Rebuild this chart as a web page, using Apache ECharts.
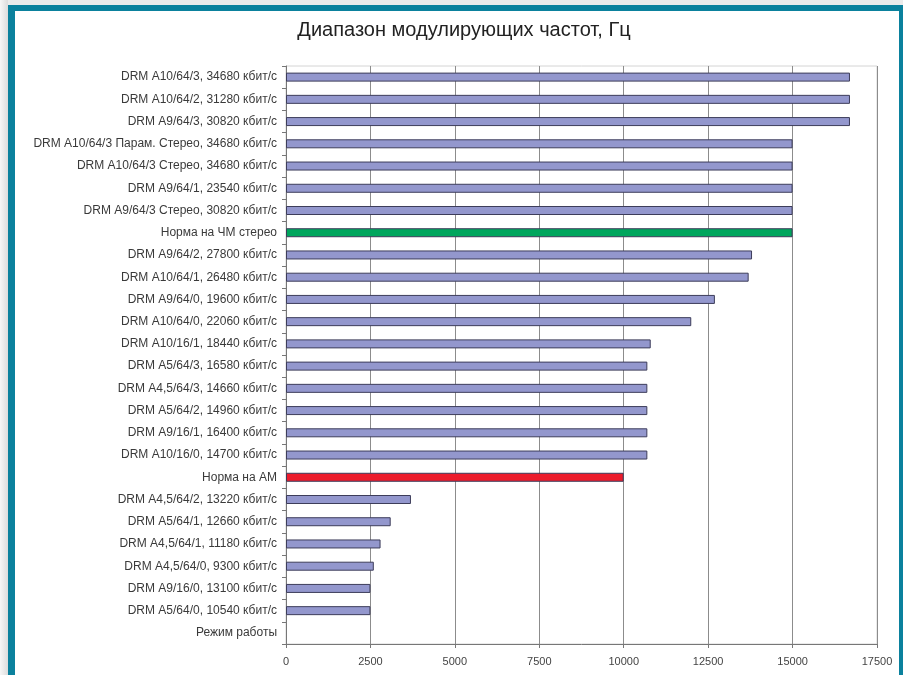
<!DOCTYPE html>
<html>
<head>
<meta charset="utf-8">
<script src="https://cdn.jsdelivr.net/npm/echarts@6/dist/echarts.min.js"></script>
<style>
  html, body { margin: 0; padding: 0; background: #fff; }
  #main { width: 903px; height: 675px; }
</style>
</head>
<body>
<div id="main"></div>
<script>
// режимы работы (сверху вниз)
const categories = [
  'DRM A10/64/3, 34680 кбит/с',
  'DRM A10/64/2, 31280 кбит/с',
  'DRM A9/64/3, 30820 кбит/с',
  'DRM A10/64/3 Парам. Стерео, 34680 кбит/с',
  'DRM A10/64/3 Стерео, 34680 кбит/с',
  'DRM A9/64/1, 23540 кбит/с',
  'DRM A9/64/3 Стерео, 30820 кбит/с',
  'Норма на ЧМ стерео',
  'DRM A9/64/2, 27800 кбит/с',
  'DRM A10/64/1, 26480 кбит/с',
  'DRM A9/64/0, 19600 кбит/с',
  'DRM A10/64/0, 22060 кбит/с',
  'DRM A10/16/1, 18440 кбит/с',
  'DRM A5/64/3, 16580 кбит/с',
  'DRM A4,5/64/3, 14660 кбит/с',
  'DRM A5/64/2, 14960 кбит/с',
  'DRM A9/16/1, 16400 кбит/с',
  'DRM A10/16/0, 14700 кбит/с',
  'Норма на АМ',
  'DRM A4,5/64/2, 13220 кбит/с',
  'DRM A5/64/1, 12660 кбит/с',
  'DRM A4,5/64/1, 11180 кбит/с',
  'DRM A4,5/64/0, 9300 кбит/с',
  'DRM A9/16/0, 13100 кбит/с',
  'DRM A5/64/0, 10540 кбит/с',
  'Режим работы'
];

// верхняя граница полосы модулирующих частот, Гц
const values = [
  16700, 16700, 16700, 15000, 15000, 15000, 15000, 15000,
  13800, 13700, 12700, 12000, 10800, 10700, 10700, 10700,
  10700, 10700, 10000, 3700, 3100, 2800, 2600, 2500, 2500, null
];

const fmNorm = 'Норма на ЧМ стерео';
const amNorm = 'Норма на АМ';

const BAR_COLOR = '#9397cd';
const FM_COLOR = '#00a65d';
const AM_COLOR = '#ec1c2c';
const FRAME = '#0b819d';

const barData = values.map((v, i) => {
  let color = BAR_COLOR;
  if (categories[i] === fmNorm) color = FM_COLOR;
  if (categories[i] === amNorm) color = AM_COLOR;
  return { value: v, itemStyle: { color: color } };
});

const option = {
  animation: false,
  backgroundColor: '#fff',
  textStyle: { fontFamily: 'Liberation Sans, Arial, sans-serif' },
  title: {
    text: 'Диапазон модулирующих частот, Гц',
    left: 459,
    textAlign: 'center',
    top: 15,
    textStyle: {
      fontSize: 20,
      fontWeight: 'normal',
      color: '#222',
      fontFamily: 'Liberation Sans, Arial, sans-serif'
    }
  },
  grid: {
    left: 286,
    right: 26,
    top: 66,
    bottom: 31,
    show: true,
    borderColor: '#d4d4d4',
    borderWidth: 1,
    backgroundColor: '#fff'
  },
  xAxis: {
    type: 'value',
    min: 0,
    max: 17500,
    interval: 2500,
    axisLine: { show: true, lineStyle: { color: '#777', width: 1 } },
    axisTick: { show: true, length: 4, lineStyle: { color: '#777' } },
    axisLabel: { color: '#444', fontSize: 11, margin: 12, formatter: (v) => String(v) },
    splitLine: { show: true, lineStyle: { color: '#8c8c8c', width: 1 } }
  },
  yAxis: {
    type: 'category',
    inverse: true,
    data: categories,
    axisLine: { show: true, lineStyle: { color: '#777', width: 1 } },
    axisTick: { show: true, length: 4, inside: false, lineStyle: { color: '#777' } },
    axisLabel: { color: '#3a3a3a', fontSize: 12, margin: 9 },
    splitLine: { show: false }
  },
  series: [{
    type: 'bar',
    data: barData,
    barWidth: 9,
    itemStyle: { borderColor: '#3d3d5a', borderWidth: 1 },
    emphasis: { disabled: true }
  }],
  graphic: [
    { type: 'rect', shape: { x: 0, y: 0, width: 903, height: 5 }, style: { fill: '#ebebeb' }, silent: true },
    { type: 'rect', shape: { x: 0, y: 0, width: 8, height: 675 },
      style: { fill: new echarts.graphic.LinearGradient(0, 0, 1, 0, [
        { offset: 0, color: '#f7f7f7' }, { offset: 1, color: '#dcdcdc' }]) }, silent: true },
    { type: 'rect', shape: { x: 8, y: 5, width: 7, height: 670 }, style: { fill: FRAME }, silent: true },
    { type: 'rect', shape: { x: 8, y: 5, width: 895, height: 6 }, style: { fill: FRAME }, silent: true },
    { type: 'rect', shape: { x: 899, y: 5, width: 4, height: 670 }, style: { fill: FRAME }, silent: true }
  ]
};

const chartDom = document.getElementById('main');
const myChart = echarts.init(chartDom);
myChart.setOption(option);
</script>
</body>
</html>
